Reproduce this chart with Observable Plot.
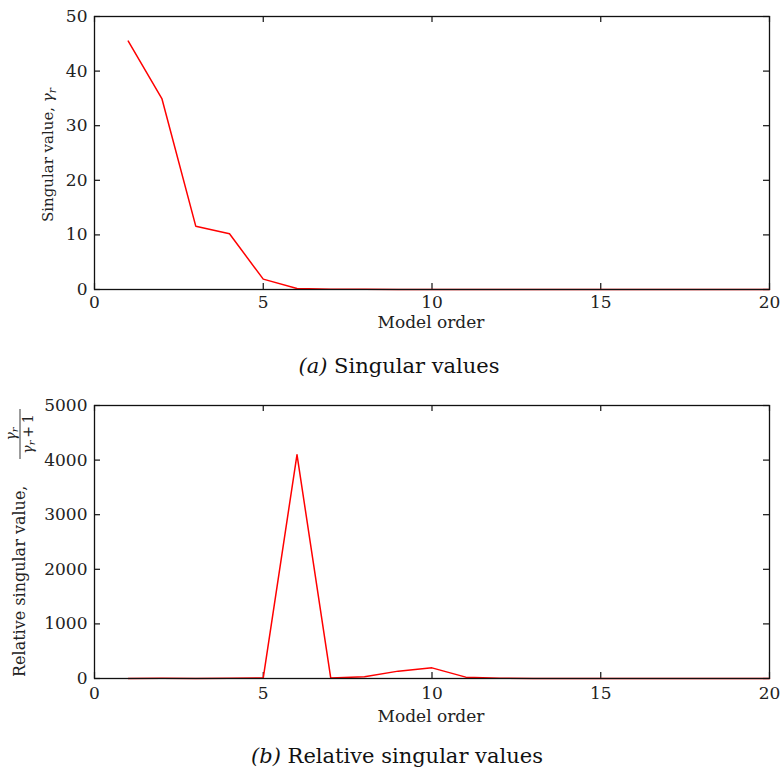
<!DOCTYPE html>
<html><head><meta charset="utf-8">
<script src="https://cdn.jsdelivr.net/npm/d3@7"></script>
<script src="https://cdn.jsdelivr.net/npm/@observablehq/plot@0.6"></script>
<style>
body{margin:0;background:#fff;width:782px;height:770px;position:relative;font-family:"DejaVu Serif",serif;overflow:hidden}
.panel{position:absolute;left:0}
.cap{position:absolute;left:0;width:782px;text-align:center;font-size:21px;line-height:24px;color:#111}
</style></head><body>
<div id="a" class="panel" style="top:0"></div>
<div class="cap" style="top:354px;padding-left:8px"><i>(a)</i> Singular values</div>
<div id="b" class="panel" style="top:390px"></div>
<div class="cap" style="top:744px;padding-left:6px"><i>(b)</i> Relative singular values</div>
<script>
const modelOrder = [1,2,3,4,5,6,7,8,9,10,11,12,13,14,15,16,17,18,19,20];
const singularValues = [45.5,34.9,11.6,10.2,1.9,0.2,0.05,0.03,0.02,0.01,0.01,0.01,0.01,0.01,0.01,0.01,0.01,0.01,0.01,0.01];
const relativeValues = [1.3,3.0,1.1,5.4,9.5,4100,8,30,135,195,25,5,2,1,1,1,1,1,1,1];
const xTicks = [0,5,10,15,20];
const yTicksA = [0,10,20,30,40,50];
const yTicksB = [0,1000,2000,3000,4000,5000];
const xLabel = "Model order";

const W = 782, H = 340, ML = 94, MR = 13, TICK = 6;

function panel(values, yDomain, yTicks, mt, mb, tickPadX) {
  const data = modelOrder.map((m, i) => ({m, v: values[i]}));
  const pw = W - ML - MR, ph = H - mt - mb;
  return Plot.plot({
    width: W, height: H,
    marginLeft: ML, marginRight: MR, marginTop: mt, marginBottom: mb,
    style: {fontFamily: "DejaVu Serif, serif", fontSize: "17px", color: "#222", background: "white", overflow: "visible"},
    x: {domain: [0, 20]},
    y: {domain: yDomain},
    marks: [
      Plot.axisX({anchor: "bottom", ticks: xTicks, tickSize: 0, tickPadding: tickPadX, label: null}),
      Plot.axisY({anchor: "left", ticks: yTicks, tickSize: 0, tickPadding: 7, label: null, tickFormat: d => String(d)}),
      Plot.tickX(xTicks, {x: d => d, insetTop: ph - TICK, stroke: "#111", strokeWidth: 1.2}),
      Plot.tickX(xTicks, {x: d => d, insetBottom: ph - TICK, stroke: "#111", strokeWidth: 1.2}),
      Plot.tickY(yTicks, {y: d => d, insetRight: pw - TICK, stroke: "#111", strokeWidth: 1.2}),
      Plot.tickY(yTicks, {y: d => d, insetLeft: pw - TICK, stroke: "#111", strokeWidth: 1.2}),
      Plot.line(data, {x: "m", y: "v", stroke: "#ff0000", strokeWidth: 1.5}),
      Plot.frame({stroke: "#111", strokeWidth: 1.3})
    ]
  });
}

const svgA = panel(singularValues, [0, 50], yTicksA, 16, 51, 6);
const svgB = panel(relativeValues, [0, 5000], yTicksB, 15, 52, 8);
document.getElementById("a").appendChild(svgA);
document.getElementById("b").appendChild(svgB);

function addXLabel(svg, y) {
  d3.select(svg).append("text")
    .attr("x", 431).attr("y", y)
    .attr("text-anchor", "middle")
    .attr("font-size", 17).attr("fill", "#222")
    .text(xLabel);
}
addXLabel(svgA, 328);
addXLabel(svgB, 332);

{
  const t = d3.select(svgA).append("text")
    .attr("transform", "translate(53,155) rotate(-90)")
    .attr("text-anchor", "middle").attr("font-size", 15).attr("fill", "#222");
  t.append("tspan").text("Singular value, ");
  t.append("tspan").attr("font-style", "italic").text("γ");
  t.append("tspan").attr("font-style", "italic").attr("font-size", 11).attr("dy", 3).text("r");
}
{
  const g = d3.select(svgB).append("g").attr("transform", "translate(25,287) rotate(-90)").attr("fill", "#222");
  g.append("text").attr("x", 0).attr("y", 0).attr("text-anchor", "start").attr("font-size", 16).text("Relative singular value,");
  const num = g.append("text").attr("x", 243).attr("y", -9).attr("text-anchor", "middle").attr("font-size", 14).attr("font-style", "italic");
  num.append("tspan").text("γ");
  num.append("tspan").attr("font-size", 10).attr("dy", 2).text("r");
  g.append("line").attr("x1", 218).attr("x2", 268).attr("y1", -5).attr("y2", -5).attr("stroke", "#222").attr("stroke-width", 0.9);
  const den = g.append("text").attr("x", 243).attr("y", 8).attr("text-anchor", "middle").attr("font-size", 14);
  den.append("tspan").attr("font-style", "italic").text("γ");
  den.append("tspan").attr("font-style", "italic").attr("font-size", 10).attr("dy", 2).text("r");
  den.append("tspan").attr("dy", -2).text("\u2009+\u20091");
}
</script>
</body></html>
